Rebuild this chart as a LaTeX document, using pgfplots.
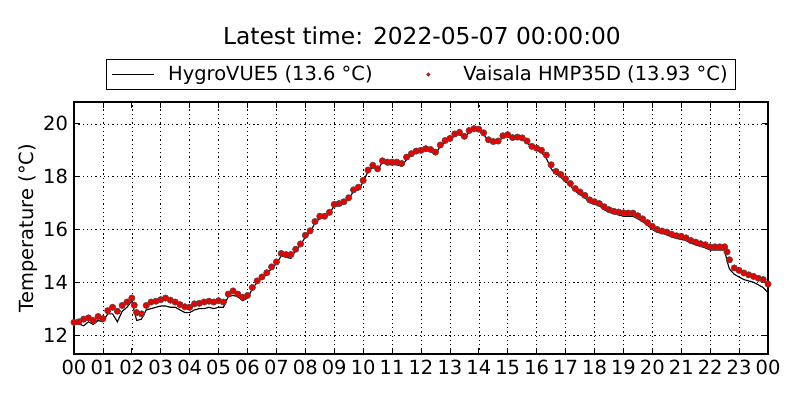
\documentclass[border=0pt]{standalone}
\usepackage{fontspec}
\setmainfont{DejaVu Sans}
\usepackage{pgfplots}
\pgfplotsset{compat=1.18}
\usepackage{pgfplotstable}
\pgfplotstableread{
t r b
0.0000 12.48 12.42
0.1667 12.50 12.42
0.3333 12.60 12.35
0.5000 12.65 12.50
0.6667 12.55 12.40
0.8333 12.70 12.55
1.0000 12.62 12.50
1.1667 12.92 12.80
1.3333 13.05 12.80
1.5000 12.90 12.50
1.6667 13.12 12.90
1.8333 13.25 13.05
2.0000 13.40 13.30
2.0833 13.13 12.90
2.1667 12.85 12.55
2.3333 12.80 12.60
2.5000 13.12 12.95
2.6667 13.25 13.00
2.8333 13.28 13.05
3.0000 13.34 13.10
3.1667 13.40 13.10
3.3333 13.32 13.05
3.5000 13.25 13.05
3.6667 13.15 12.95
3.8333 13.07 12.85
4.0000 13.05 12.85
4.1667 13.18 12.95
4.3333 13.20 13.00
4.5000 13.25 13.00
4.6667 13.28 13.05
4.8333 13.25 13.00
5.0000 13.30 13.05
5.1667 13.25 13.05
5.3333 13.55 13.45
5.5000 13.67 13.50
5.6667 13.55 13.45
5.8333 13.43 13.30
6.0000 13.50 13.40
6.1667 13.80 13.75
6.3333 14.05 14.00
6.5000 14.20 14.15
6.6667 14.36 14.30
6.8333 14.58 14.52
7.0000 14.77 14.70
7.1667 15.09 15.00
7.3333 15.05 14.95
7.5000 15.05 14.90
7.6667 15.25 15.20
7.8333 15.45 15.40
8.0000 15.78 15.72
8.1667 15.95 15.90
8.3333 16.30 16.25
8.5000 16.50 16.42
8.6667 16.50 16.45
8.8333 16.65 16.60
9.0000 16.95 16.90
9.1667 16.98 16.90
9.3333 17.05 17.00
9.5000 17.20 17.15
9.6667 17.50 17.45
9.8333 17.60 17.50
10.0000 17.86 17.80
10.1667 18.25 18.20
10.3333 18.43 18.35
10.5000 18.30 18.25
10.6667 18.60 18.55
10.8333 18.55 18.45
11.0000 18.55 18.45
11.1667 18.55 18.45
11.3333 18.50 18.40
11.5000 18.74 18.65
11.6667 18.87 18.80
11.8333 18.97 18.90
12.0000 19.00 18.95
12.1667 19.06 19.00
12.3333 19.03 18.95
12.5000 18.93 18.85
12.6667 19.20 19.15
12.8333 19.37 19.30
13.0000 19.45 19.40
13.1667 19.62 19.55
13.3333 19.68 19.60
13.5000 19.53 19.45
13.6667 19.75 19.70
13.8333 19.82 19.75
14.0000 19.80 19.75
14.1667 19.66 19.60
14.3333 19.40 19.35
14.5000 19.33 19.25
14.6667 19.35 19.30
14.8333 19.55 19.50
15.0000 19.59 19.55
15.1667 19.48 19.42
15.3333 19.50 19.45
15.5000 19.47 19.40
15.6667 19.35 19.30
15.8333 19.15 19.10
16.0000 19.08 19.00
16.1667 19.00 18.92
16.3333 18.82 18.70
16.5000 18.45 18.30
16.6667 18.20 18.10
16.8333 18.08 17.98
17.0000 17.92 17.82
17.1667 17.74 17.65
17.3333 17.55 17.45
17.5000 17.42 17.32
17.6667 17.29 17.20
17.8333 17.12 17.02
18.0000 17.05 16.95
18.1667 16.98 16.90
18.3333 16.86 16.75
18.5000 16.75 16.65
18.6667 16.69 16.60
18.8333 16.66 16.55
19.0000 16.63 16.50
19.1667 16.62 16.50
19.3333 16.62 16.50
19.5000 16.52 16.40
19.6667 16.40 16.30
19.8333 16.26 16.15
20.0000 16.12 16.00
20.1667 16.00 15.90
20.3333 15.94 15.85
20.5000 15.90 15.80
20.6667 15.82 15.72
20.8333 15.76 15.66
21.0000 15.74 15.62
21.1667 15.68 15.58
21.3333 15.58 15.48
21.5000 15.52 15.42
21.6667 15.46 15.36
21.8333 15.42 15.30
22.0000 15.34 15.22
22.1667 15.34 15.22
22.3333 15.34 15.22
22.5000 15.34 15.22
22.5833 15.15 14.80
22.6667 14.85 14.50
22.8333 14.54 14.30
23.0000 14.45 14.20
23.1667 14.35 14.10
23.3333 14.28 14.05
23.5000 14.22 14.00
23.6667 14.15 13.90
23.8333 14.10 13.80
24.0000 13.93 13.60
}\datatable
\begin{document}
\begin{tikzpicture}
\path[use as bounding box] (0,0) rectangle (600pt,300pt);
\node[font=\fontsize{17.5}{20}\selectfont, anchor=center] at (316.5pt,273.5pt) {Latest time: 2022-05-07 00:00:00};
\begin{axis}[
  at={(55.5pt,34.5pt)}, anchor=south west,
  scale only axis, width=520.5pt, height=189pt,
  xmin=0, xmax=24, ymin=11.28, ymax=20.83,
  xtick={0,1,...,24},
  xticklabels={00,01,02,03,04,05,06,07,08,09,10,11,12,13,14,15,16,17,18,19,20,21,22,23,00},
  ytick={12,14,16,18,20},
  tick align=inside, major tick length=4.2pt,
  xtick pos=both, ytick pos=both,
  tick style={black, line width=0.6pt},
  axis line style={line width=0.9pt},
  grid=major,
  major grid style={black, line width=0.5pt, dash pattern=on 1pt off 2.2pt},
  /pgf/number format/assume math mode=true,
  ticklabel style={font=\fontsize{14.6}{17}\selectfont},
  xticklabel style={yshift=-1pt},
  yticklabel style={xshift=-1pt},
  ylabel={Temperature (°C)},
  ylabel style={font=\fontsize{14.6}{17}\selectfont, yshift=-3pt},
  legend columns=2,
  legend style={at={(0.5,1)}, anchor=south, yshift=9pt, draw=black, line width=0.6pt,
    font=\fontsize{14.6}{17}\selectfont, inner xsep=4pt, inner ysep=3pt,
    /tikz/every even column/.append style={column sep=24pt}},
  legend cell align=left,
]
\addplot[black, line width=0.85pt, mark=none,
  legend image code/.code={\draw[black, line width=0.75pt] (0pt,0pt) -- (31.5pt,0pt);\path[draw=none] (0pt,0pt) -- (40pt,0pt);}]
  table[x=t, y=b] {\datatable};
\addlegendentry{HygroVUE5 (13.6 °C)}
\addplot[only marks, mark=*, mark size=2.4pt, mark options={fill=red!92!black, draw=black!70, line width=0.4pt},
  legend image code/.code={\path[draw=none] (0pt,0pt) -- (40pt,0pt);\fill[red, draw=black!80, line width=0.2pt] (15.75pt,0pt) circle (1.4pt);}]
  table[x=t, y=r] {\datatable};
\addlegendentry{Vaisala HMP35D (13.93 °C)}
\end{axis}
\end{tikzpicture}
\end{document}
